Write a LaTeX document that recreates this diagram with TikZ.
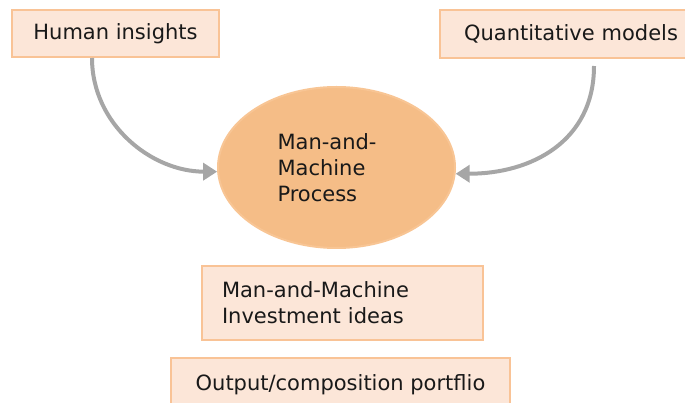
\documentclass[tikz,border=0pt]{standalone}
\usepackage{fontspec}
\setmainfont{DejaVu Sans}
\usetikzlibrary{shapes.geometric,arrows.meta}
\definecolor{boxfill}{HTML}{FCE6D8}
\definecolor{boxline}{HTML}{F9C396}
\definecolor{ellfill}{HTML}{F5BD87}
\definecolor{ellline}{HTML}{F8C594}
\definecolor{arrgray}{HTML}{A6A6A6}
\tikzset{
  lbl/.style={font=\fontsize{21}{26}\selectfont, text=black!90},
  pbox/.style={lbl, draw=boxline, line width=2pt, fill=boxfill, rectangle, inner sep=0pt},
  conn/.style={draw=arrgray, line width=4pt, -{Triangle[width=17pt,length=14pt]}}
}
\begin{document}
\begin{tikzpicture}[x=1pt,y=-1pt]
\useasboundingbox (0,0) rectangle (685,403);
\node[pbox, minimum width=250pt, minimum height=48pt, text width=226pt, align=right] (quant) at (565,34) {Quantitative models};
\node[pbox, minimum width=207pt, minimum height=47pt] (hum) at (115.5,33.5) {Human insights};
\node[lbl, ellipse, draw=ellline, line width=2pt, fill=ellfill, minimum width=237pt, minimum height=161pt, inner sep=0pt, text width=118pt, align=left] (ell) at (336.5,167.5) {Man-and-\\Machine\\Process};
\node[pbox, minimum width=281pt, minimum height=74pt, text width=241pt, align=left] (ideas) at (342.5,303) {Man-and-Machine\\Investment ideas};
\node[pbox, minimum width=339pt, minimum height=54pt] (out) at (340.5,385) {Output/composition portflio};
\draw[conn] ([xshift=81pt]hum.south west) to[out=-90, in=180] (ell.182);
\draw[conn] ([xshift=155pt,yshift=-7pt]quant.south west) to[out=-90, in=0, looseness=1.1] (ell.-3);
\end{tikzpicture}
\end{document}
